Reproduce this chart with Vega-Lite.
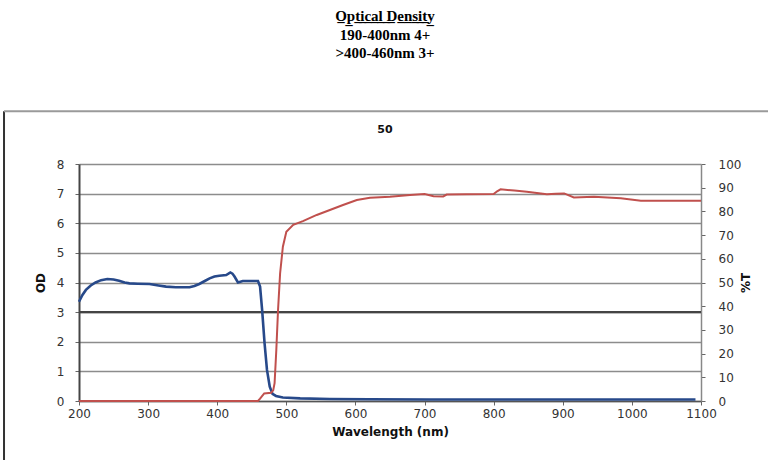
{
  "$schema": "https://vega.github.io/schema/vega-lite/v6.json",
  "width": 622,
  "height": 237,
  "autosize": {"type": "none"},
  "padding": {"left": 79, "top": 164, "right": 67, "bottom": 59},
  "background": "white",
  "title": {
    "text": ["O̲p̲t̲i̲c̲a̲l̲ ̲D̲e̲n̲s̲i̲t̲y̲", "190-400nm 4+", ">400-460nm 3+"],
    "subtitle": "50",
    "anchor": "middle",
    "dx": -5,
    "font": "Liberation Serif",
    "fontSize": 15,
    "fontWeight": "bold",
    "color": "#000000",
    "lineHeight": 18.5,
    "subtitleFont": "DejaVu Sans",
    "subtitleFontSize": 11,
    "subtitleFontWeight": "bold",
    "subtitleColor": "#111111",
    "subtitlePadding": 63,
    "offset": -25
  },
  "config": {
    "view": {"stroke": null},
    "axis": {
      "labelFont": "DejaVu Sans",
      "labelFontSize": 12,
      "labelColor": "#333333",
      "labelFlush": false,
      "titleFont": "DejaVu Sans",
      "titleFontSize": 12,
      "titleFontWeight": "bold",
      "titleColor": "#111111",
      "tickSize": 4,
      "tickColor": "#666666",
      "domainColor": "#555555",
      "domainWidth": 1.5
    }
  },
  "datasets": {
    "od": [
      {"nm": 200, "od": 3.35}, {"nm": 205, "od": 3.58}, {"nm": 210, "od": 3.75}, {"nm": 217, "od": 3.9},
      {"nm": 224, "od": 4.0}, {"nm": 232, "od": 4.08}, {"nm": 241, "od": 4.12}, {"nm": 250, "od": 4.1},
      {"nm": 258, "od": 4.06}, {"nm": 266, "od": 4.0}, {"nm": 273, "od": 3.97}, {"nm": 285, "od": 3.96},
      {"nm": 302, "od": 3.95}, {"nm": 315, "od": 3.9}, {"nm": 326, "od": 3.86}, {"nm": 340, "od": 3.84},
      {"nm": 360, "od": 3.84}, {"nm": 367, "od": 3.88}, {"nm": 374, "od": 3.95}, {"nm": 382, "od": 4.05},
      {"nm": 389, "od": 4.14}, {"nm": 396, "od": 4.2}, {"nm": 403, "od": 4.23}, {"nm": 413, "od": 4.25},
      {"nm": 419, "od": 4.34}, {"nm": 422, "od": 4.3}, {"nm": 425, "od": 4.2}, {"nm": 430, "od": 4.0},
      {"nm": 437, "od": 4.05}, {"nm": 450, "od": 4.05}, {"nm": 459, "od": 4.05}, {"nm": 462, "od": 3.86},
      {"nm": 465, "od": 3.07}, {"nm": 468.5, "od": 1.95}, {"nm": 472, "od": 1.05}, {"nm": 476, "od": 0.48},
      {"nm": 480, "od": 0.24}, {"nm": 485, "od": 0.17}, {"nm": 495, "od": 0.12}, {"nm": 520, "od": 0.09},
      {"nm": 563, "od": 0.07}, {"nm": 620, "od": 0.06}, {"nm": 708, "od": 0.05}, {"nm": 800, "od": 0.05},
      {"nm": 900, "od": 0.05}, {"nm": 1000, "od": 0.05}, {"nm": 1092, "od": 0.05}
    ],
    "t": [
      {"nm": 200, "T": 0}, {"nm": 459, "T": 0}, {"nm": 462, "T": 1}, {"nm": 468, "T": 3.2},
      {"nm": 478, "T": 3.5}, {"nm": 481, "T": 4.5}, {"nm": 483, "T": 7.5}, {"nm": 485.5, "T": 21.5},
      {"nm": 488, "T": 38.4}, {"nm": 491, "T": 53.9}, {"nm": 495, "T": 65.1}, {"nm": 500, "T": 71.4},
      {"nm": 510, "T": 74.3}, {"nm": 524, "T": 75.9}, {"nm": 544, "T": 78.5}, {"nm": 563, "T": 80.6},
      {"nm": 582, "T": 82.7}, {"nm": 602, "T": 84.8}, {"nm": 621, "T": 85.8}, {"nm": 650, "T": 86.2},
      {"nm": 679, "T": 86.9}, {"nm": 700, "T": 87.3}, {"nm": 713, "T": 86.4}, {"nm": 727, "T": 86.3},
      {"nm": 732, "T": 87.1}, {"nm": 760, "T": 87.2}, {"nm": 800, "T": 87.3}, {"nm": 805, "T": 88.5},
      {"nm": 810, "T": 89.3}, {"nm": 830, "T": 88.8}, {"nm": 848, "T": 88.3}, {"nm": 877, "T": 87.2},
      {"nm": 890, "T": 87.4}, {"nm": 902, "T": 87.6}, {"nm": 916, "T": 85.9}, {"nm": 945, "T": 86.2},
      {"nm": 984, "T": 85.5}, {"nm": 1013, "T": 84.5}, {"nm": 1100, "T": 84.5}
    ],
    "one": [{}]
  },
  "layer": [
    {
      "data": {"name": "one"},
      "mark": {"type": "rule", "color": "#444444", "strokeWidth": 2.2},
      "encoding": {
        "y": {"datum": 3, "type": "quantitative", "scale": {"domain": [0, 8], "nice": false}, "axis": null}
      }
    },
    {
      "data": {"name": "od"},
      "mark": {"type": "line", "color": "#27498A", "strokeWidth": 2.6},
      "encoding": {
        "x": {
          "field": "nm", "type": "quantitative",
          "scale": {"domain": [200, 1100], "nice": false, "zero": false},
          "axis": {
            "title": "Wavelength (nm)",
            "values": [200, 300, 400, 500, 600, 700, 800, 900, 1000, 1100],
            "format": "d",
            "grid": false,
            "labelPadding": 3,
            "titlePadding": 7
          }
        },
        "y": {
          "field": "od", "type": "quantitative",
          "scale": {"domain": [0, 8], "nice": false},
          "axis": {
            "orient": "left",
            "title": "OD",
            "values": [0, 1, 2, 3, 4, 5, 6, 7, 8],
            "format": "d",
            "grid": true,
            "gridColor": "#8c8c8c",
            "gridWidth": 1.5,
            "domainColor": "#444444",
            "domainWidth": 2,
            "labelPadding": 11,
            "titlePadding": 9
          }
        }
      }
    },
    {
      "data": {"name": "t"},
      "mark": {"type": "line", "color": "#C0504D", "strokeWidth": 2},
      "encoding": {
        "x": {"field": "nm", "type": "quantitative"},
        "y": {
          "field": "T", "type": "quantitative",
          "scale": {"domain": [0, 100], "nice": false},
          "axis": {
            "orient": "right",
            "title": "%T",
            "titleAngle": -90,
            "values": [0, 10, 20, 30, 40, 50, 60, 70, 80, 90, 100],
            "format": "d",
            "grid": false,
            "domainColor": "#888888",
            "labelPadding": 13,
            "titlePadding": 12
          }
        }
      }
    },
    {
      "data": {"name": "one"},
      "mark": {"type": "rule", "color": "#333333", "strokeWidth": 2, "clip": false},
      "encoding": {
        "x": {"datum": 91.5, "type": "quantitative"},
        "y": {"datum": 9.78, "type": "quantitative", "scale": {"domain": [0, 8], "nice": false}, "axis": null},
        "y2": {"datum": -3}
      }
    },
    {
      "data": {"name": "one"},
      "mark": {"type": "rule", "color": "#9a9a9a", "strokeWidth": 2, "clip": false},
      "encoding": {
        "x": {"datum": 91.5, "type": "quantitative"},
        "x2": {"datum": 1250},
        "y": {"datum": 9.78, "type": "quantitative", "scale": {"domain": [0, 8], "nice": false}, "axis": null}
      }
    }
  ],
  "resolve": {"scale": {"y": "independent"}}
}
